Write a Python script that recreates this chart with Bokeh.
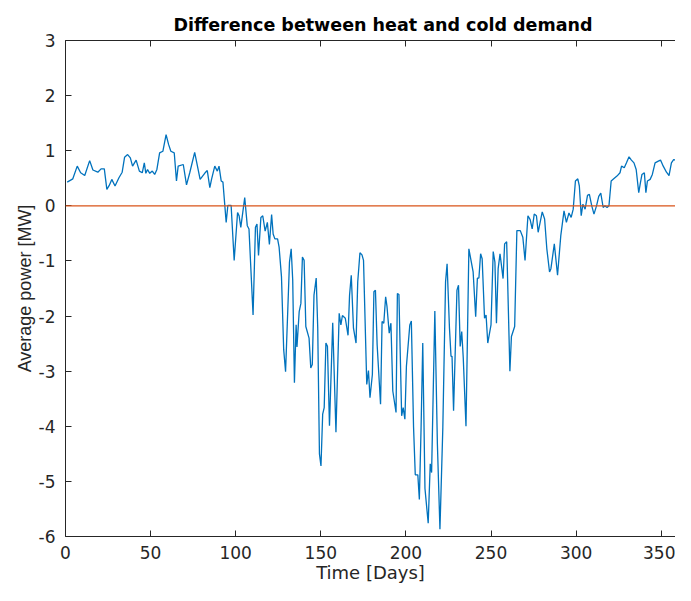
from bokeh.plotting import figure
from bokeh.models import Range1d, LinearAxis, FixedTicker, Span
from bokeh.embed import file_html
from bokeh.resources import INLINE

title_text = "Difference between heat and cold demand"
x_label = "Time [Days]"
y_label = "Average power [MW]"

days = [1.0, 4.3, 6.9, 8.9, 11.3, 14.2, 16.1, 19.0, 20.9, 22.8, 24.3, 25.7, 27.2, 29.1, 31.4, 33.3,
        34.7, 36.5, 38.1, 39.4, 41.5, 43.4, 45.1, 46.3, 47.2, 48.2, 49.5, 51.0, 52.4, 53.7, 55.3, 57.2,
        59.1, 60.6, 61.9, 63.9, 65.2, 66.2, 69.2, 71.1, 73.0, 75.9, 79.1, 82.0, 83.3, 84.8, 85.8, 87.7,
        89.2, 90.2, 91.5, 92.5, 94.4, 95.4, 97.3, 99.1, 101.1, 102.0, 103.0, 105.3, 106.8, 107.8, 110.2,
        111.6, 112.5, 113.4, 114.8, 115.9, 117.3, 118.6, 119.8, 121.1, 122.0, 123.0, 124.6, 125.5, 126.9,
        128.2, 129.3, 130.6, 131.6, 132.6, 133.5, 134.5, 135.5, 136.0, 137.3, 138.3, 139.2, 140.2, 141.2,
        143.1, 144.1, 145.0, 146.0, 147.3, 148.2, 149.2, 150.1, 151.1, 152.0, 153.0, 153.9, 155.1, 157.0,
        158.9, 160.8, 161.8, 162.7, 164.4, 166.0, 166.9, 167.9, 169.2, 170.7, 171.7, 173.0, 174.2, 175.1,
        177.0, 178.0, 178.9, 180.3, 181.2, 182.1, 183.1, 185.1, 186.0, 187.0, 188.1, 188.9, 190.2, 191.2,
        192.3, 194.2, 195.0, 195.9, 197.5, 198.4, 199.4, 200.3, 202.3, 203.2, 204.5, 205.5, 207.0, 207.9,
        208.9, 209.9, 211.2, 213.1, 214.3, 215.1, 217.0, 218.5, 220.0, 221.7, 223.3, 224.2, 225.6, 226.5,
        227.1, 228.0, 230.0, 230.9, 231.9, 232.8, 233.7, 235.3, 237.0, 239.5, 241.0, 242.0, 242.9, 243.9,
        244.8, 246.2, 247.1, 248.1, 250.0, 251.3, 252.3, 253.2, 254.2, 255.3, 257.1, 258.0, 259.2, 261.1,
        262.0, 263.9, 265.2, 267.2, 268.7, 270.0, 271.7, 273.0, 274.2, 275.4, 276.7, 277.7, 280.1, 281.5,
        282.8, 284.4, 285.2, 287.2, 289.1, 291.0, 292.9, 294.3, 295.8, 297.1, 298.3, 299.6, 301.0, 301.9,
        303.0, 304.0, 305.3, 306.7, 307.8, 309.2, 310.5, 312.0, 313.3, 314.5, 315.9, 316.8, 318.2, 319.3,
        320.6, 322.1, 324.0, 325.8, 326.7, 328.3, 329.6, 331.1, 332.5, 334.0, 335.3, 336.8, 337.8, 338.7,
        340.1, 341.0, 341.9, 343.5, 344.8, 346.4, 348.3, 349.6, 351.2, 353.1, 354.6, 356.0, 357.3, 358.4,
        359.5]

power = [0.43, 0.49, 0.72, 0.60, 0.55, 0.82, 0.65, 0.61, 0.67, 0.67, 0.30, 0.37, 0.48, 0.36, 0.51, 0.61,
         0.88, 0.93, 0.87, 0.72, 0.83, 0.63, 0.60, 0.78, 0.59, 0.66, 0.59, 0.63, 0.57, 0.66, 0.96, 0.99,
         1.29, 1.11, 0.99, 0.96, 0.45, 0.72, 0.75, 0.38, 0.60, 0.97, 0.48, 0.60, 0.64, 0.33, 0.48, 0.72,
         0.63, 0.72, 0.45, 0.43, -0.30, 0.01, 0.01, -0.99, -0.12, -0.18, -0.39, 0.15, -0.36, -0.42, -1.98,
         -0.39, -0.33, -0.90, -0.21, -0.18, -0.46, -0.30, -0.70, -0.16, -0.51, -0.60, -0.60, -0.75, -1.29,
         -2.61, -3.01, -1.89, -1.02, -0.78, -1.35, -3.21, -2.16, -2.56, -1.92, -1.77, -0.93, -0.99, -2.19,
         -2.40, -2.94, -2.88, -1.62, -1.31, -2.22, -4.50, -4.72, -3.78, -3.66, -2.49, -2.55, -3.99, -2.12,
         -4.11, -1.95, -2.16, -1.99, -2.04, -2.35, -1.62, -1.26, -2.22, -2.49, -1.38, -0.85, -0.89, -0.99,
         -3.24, -2.99, -3.48, -3.06, -1.56, -1.53, -2.52, -3.60, -2.10, -2.13, -1.65, -1.83, -2.31, -2.13,
         -3.36, -3.75, -1.59, -1.61, -3.81, -3.66, -3.87, -2.91, -2.16, -2.09, -4.02, -4.88, -4.88, -5.33,
         -4.05, -2.49, -5.13, -5.76, -4.68, -4.84, -1.91, -4.32, -5.87, -4.02, -1.38, -1.05, -2.22, -2.73,
         -2.73, -3.72, -1.53, -1.44, -2.55, -2.28, -2.76, -4.00, -0.78, -1.20, -2.01, -1.31, -1.31, -0.87,
         -0.96, -2.04, -1.98, -2.49, -2.16, -0.83, -1.02, -2.13, -1.14, -0.87, -1.32, -0.69, -0.65, -3.00,
         -2.37, -2.19, -0.45, -0.45, -0.57, -0.99, -0.18, -0.25, -0.42, -0.15, -0.18, -0.48, -0.11, -0.24,
         -0.78, -1.20, -1.14, -0.69, -1.26, -0.54, -0.09, -0.30, -0.13, -0.21, -0.06, 0.45, 0.49, 0.36,
         -0.18, 0.03, -0.06, 0.19, 0.21, 0.00, -0.15, 0.00, 0.17, 0.23, -0.03, 0.00, -0.03, 0.00,
         0.45, 0.49, 0.54, 0.60, 0.72, 0.69, 0.78, 0.89, 0.83, 0.78, 0.66, 0.24, 0.42, 0.57,
         0.60, 0.24, 0.45, 0.48, 0.57, 0.78, 0.81, 0.83, 0.72, 0.61, 0.55, 0.78, 0.84, 0.83,
         0.55]

x_ticks = [0, 50, 100, 150, 200, 250, 300, 350]
y_ticks = [-6, -5, -4, -3, -2, -1, 0, 1, 2, 3]
y_tick_labels = {t: str(t) for t in y_ticks}
x_limits = (0, 358.4)
y_limits = (-6, 3)
zero_level = 0

wide_font = "DejaVu Sans"
narrow_font = "Liberation Sans"
axis_color = "#262626"

p = figure(width=675, height=585, output_backend="svg", toolbar_location=None,
           x_range=Range1d(*x_limits), y_range=Range1d(*y_limits),
           min_border_left=65, min_border_right=0, min_border_top=40, min_border_bottom=49)

p.title.text = title_text
p.title.align = "left"
p.title.text_font = wide_font
p.title.text_font_size = "17.5px"
p.title.text_font_style = "bold"
p.title.text_color = "#000000"
p.title.offset = 108
p.title.standoff = 12

p.grid.visible = False
p.outline_line_color = None
p.background_fill_color = "white"
p.border_fill_color = "white"

for ax in [p.xaxis[0], p.yaxis[0]]:
    ax.major_tick_in = 6
    ax.major_tick_out = 0
    ax.minor_tick_line_color = None
    ax.axis_line_color = axis_color
    ax.major_tick_line_color = axis_color
    ax.major_label_text_font = wide_font
    ax.major_label_text_font_size = "17px"
    ax.major_label_text_color = axis_color
    ax.axis_label_text_font_style = "normal"
    ax.axis_label_text_color = axis_color

p.xaxis[0].ticker = FixedTicker(ticks=x_ticks)
p.xaxis[0].axis_label = x_label
p.xaxis[0].axis_label_text_font = wide_font
p.xaxis[0].axis_label_text_font_size = "18px"
p.xaxis[0].major_label_standoff = 9
p.xaxis[0].axis_label_standoff = 0

p.yaxis[0].ticker = FixedTicker(ticks=y_ticks)
p.yaxis[0].major_label_overrides = y_tick_labels
p.yaxis[0].axis_label = y_label
p.yaxis[0].axis_label_text_font = narrow_font
p.yaxis[0].axis_label_text_font_size = "18px"
p.yaxis[0].major_label_standoff = 10
p.yaxis[0].axis_label_standoff = 1

top_axis = LinearAxis(ticker=FixedTicker(ticks=x_ticks), major_tick_in=6, major_tick_out=0,
                      minor_tick_line_color=None, axis_line_color=axis_color,
                      major_tick_line_color=axis_color,
                      major_label_overrides={t: "" for t in x_ticks},
                      major_label_standoff=0)
p.add_layout(top_axis, "above")

p.add_layout(Span(location=zero_level, dimension="width", line_color="#D95319", line_width=1.2))
p.line(days, power, line_color="#0072BD", line_width=1.3)

open("out.html", "w").write(file_html(p, INLINE))
